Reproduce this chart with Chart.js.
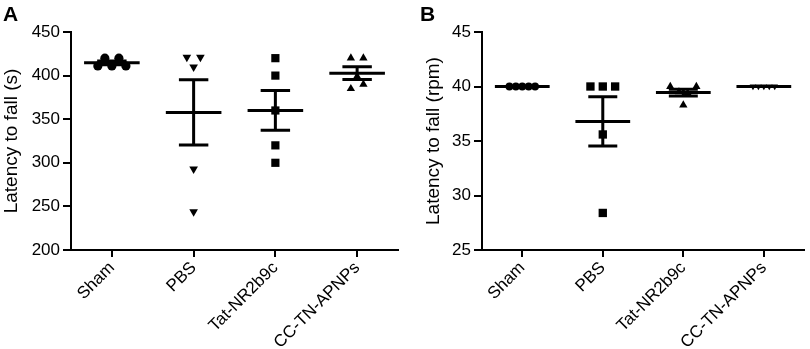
<!DOCTYPE html>
<html>
<head>
<meta charset="utf-8">
<script src="https://cdn.jsdelivr.net/npm/chart.js@4.4.0/dist/chart.umd.min.js"></script>
<style>
  html, body { margin: 0; padding: 0; background: #fff; }
  #wrap { position: relative; width: 810px; height: 349px; }
  .panel { position: absolute; top: 0; width: 405px; height: 349px; }
  .letter { position: absolute; font: bold 21px "Liberation Sans", Arial, sans-serif; color: #000; line-height: 1; }
</style>
</head>
<body>
<div id="wrap">
  <div class="panel" style="left:0"><canvas id="chart-a" width="405" height="349"></canvas></div>
  <div class="panel" style="left:405px"><canvas id="chart-b" width="405" height="349"></canvas></div>
  <div class="letter" style="left:3px;top:3px">A</div>
  <div class="letter" style="left:420px;top:3px">B</div>
</div>
<script>
const categories = ["Sham", "PBS", "Tat-NR2b9c", "CC-TN-APNPs"];

// A: latency to fall (s), one value per animal
const shamA = [411, 420, 411, 420, 411];
const pbsA = [421, 410, 421, 293, 244];
const tatA = [420, 400, 360, 320, 300];
const ccA = [420, 420, 385, 390, 399];
const ticksA = [200, 250, 300, 350, 400, 450];

// B: latency to fall (rpm)
const shamB = [40, 40, 40, 40, 40];
const pbsB = [40, 40, 40, 35.6, 28.4];
const tatB = [40, 39.5, 39.4, 40, 38.3];
const ccB = [40, 40, 40, 40, 40];
const ticksB = [25, 30, 35, 40, 45];

const FONT = "'Liberation Sans', Arial, sans-serif";
const PX_PER_CAT = 81.5;

function mean(a) {
  return a.reduce((s, v) => s + v, 0) / a.length;
}

function sem(a) {
  const m = mean(a);
  const v = a.reduce((s, x) => s + (x - m) * (x - m), 0) / (a.length - 1);
  return Math.sqrt(v / a.length);
}

// spread points with (almost) the same value side by side, like a dot plot
function spread(values, tol, gap) {
  const clusters = [];
  values.forEach((v, i) => {
    let c = clusters.find(c => Math.abs(values[c[0]] - v) <= tol);
    if (!c) { c = []; clusters.push(c); }
    c.push(i);
  });
  const off = new Array(values.length).fill(0);
  clusters.forEach(c => c.forEach((idx, k) => { off[idx] = (k - (c.length - 1) / 2) * gap; }));
  return off;
}

function makePanel(id, groups, yTicks, yTitle, tol, padLeft, yWidth, padRight) {
  const datasets = [];
  const meanPts = [];
  const errPts = [];

  groups.forEach((g, i) => {
    const off = spread(g.values, tol, g.gap / PX_PER_CAT);
    datasets.push({
      data: g.values.map((v, k) => ({ x: i + off[k], y: v })),
      pointStyle: g.style,
      rotation: g.rotation || 0,
      pointRadius: g.radius,
      pointHoverRadius: g.radius,
      backgroundColor: "#000",
      borderColor: "#000",
      borderWidth: 0
    });
    const m = mean(g.values), s = sem(g.values);
    meanPts.push({ x: i - 0.34, y: m }, { x: i + 0.34, y: m }, { x: i, y: null });
    errPts.push(
      { x: i - 0.18, y: m + s }, { x: i + 0.18, y: m + s }, { x: i, y: null },
      { x: i, y: m + s }, { x: i, y: m - s }, { x: i, y: null },
      { x: i - 0.18, y: m - s }, { x: i + 0.18, y: m - s }, { x: i, y: null }
    );
  });

  datasets.push({
    data: meanPts, showLine: true, pointRadius: 0, borderColor: "#000",
    borderWidth: 3, spanGaps: false, borderCapStyle: "butt"
  });
  datasets.push({
    data: errPts, showLine: true, pointRadius: 0, borderColor: "#000",
    borderWidth: 3, spanGaps: false, borderCapStyle: "butt"
  });

  return new Chart(document.getElementById(id).getContext("2d"), {
    type: "scatter",
    data: { datasets: datasets },
    options: {
      responsive: false,
      animation: false,
      layout: { padding: { top: 32, right: padRight, left: padLeft, bottom: 0 } },
      plugins: { legend: { display: false }, tooltip: { enabled: false } },
      scales: {
        x: {
          type: "linear",
          min: -0.5,
          max: 3.5,
          afterBuildTicks: ax => { ax.ticks = categories.map((c, i) => ({ value: i })); },
          afterFit: ax => { ax.height = 99; },
          ticks: {
            callback: v => categories[v],
            autoSkip: false,
            maxRotation: 45,
            minRotation: 45,
            padding: 1,
            color: "#000",
            font: { family: FONT, size: 17 }
          },
          grid: { drawOnChartArea: false, drawTicks: true, tickLength: 7, color: "#000", lineWidth: 2 },
          border: { display: true, color: "#000", width: 2 }
        },
        y: {
          min: yTicks[0],
          max: yTicks[yTicks.length - 1],
          afterBuildTicks: ax => { ax.ticks = yTicks.map(v => ({ value: v })); },
          afterFit: ax => { ax.width = yWidth; },
          ticks: { color: "#000", padding: 3, font: { family: FONT, size: 17 } },
          grid: { drawOnChartArea: false, drawTicks: true, tickLength: 8, color: "#000", lineWidth: 2 },
          border: { display: true, color: "#000", width: 2 },
          title: { display: true, text: yTitle, color: "#000", padding: 0, font: { family: FONT, size: 19 } }
        }
      }
    }
  });
}

makePanel("chart-a", [
  { values: shamA, style: "circle", radius: 4.6, gap: 7 },
  { values: pbsA, style: "triangle", rotation: 180, radius: 5, gap: 13.5 },
  { values: tatA, style: "rect", radius: 5.8, gap: 12 },
  { values: ccA, style: "triangle", radius: 4.8, gap: 12.5 }
], ticksA, "Latency to fall (s)", 10, 0, 71, 7);

makePanel("chart-b", [
  { values: shamB, style: "circle", radius: 3.9, gap: 6.5 },
  { values: pbsB, style: "rect", radius: 5.9, gap: 12.5 },
  { values: tatB, style: "triangle", radius: 4.8, gap: 8.8 },
  { values: ccB, style: "triangle", rotation: 180, radius: 3.8, gap: 5.5 }
], ticksB, "Latency to fall (rpm)", 0.8, 17, 60, 2);
</script>
</body>
</html>
